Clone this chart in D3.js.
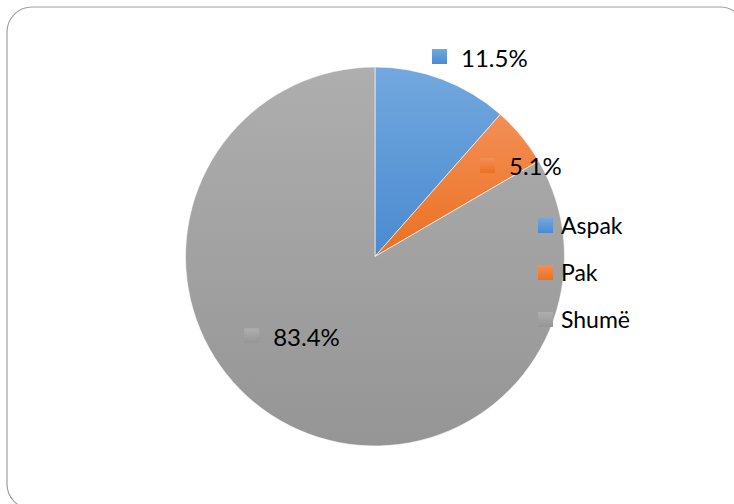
<!DOCTYPE html>
<html>
<head>
<meta charset="utf-8">
<script src="https://cdn.jsdelivr.net/npm/d3@7"></script>
<style>
  html, body { margin: 0; padding: 0; background: #fff; }
  svg { display: block; }
  text { font-family: Lato, "Open Sans", sans-serif; fill: #000; }
</style>
</head>
<body>
<svg id="chart" width="734" height="504"></svg>
<script>
const categories = ["Aspak", "Pak", "Shumë"];
const values = [11.5, 5.1, 83.4];
const valueLabels = ["11.5%", "5.1%", "83.4%"];
const colorsTop = ["#72a8de", "#f28f56", "#aeaeae"];
const colorsBottom = ["#4a8ad0", "#ec7020", "#959595"];

const W = 734, H = 504;
const cx = 375, cy = 256.5, R = 189.5;

// label layout (radius of anchor and box shift from anchor)
const labelRadius = [200, 120, 100];
const labelShift = [[-13.7, -20.4], [12.3, -22.3], [-81, -14.9]];

const svg = d3.select("#chart");
const defs = svg.append("defs");

categories.forEach((c, i) => {
  const g = defs.append("linearGradient").attr("id", "grad" + i)
    .attr("x1", 0).attr("y1", 0).attr("x2", 0).attr("y2", 1);
  g.append("stop").attr("offset", "0%").attr("stop-color", colorsTop[i]);
  g.append("stop").attr("offset", "100%").attr("stop-color", colorsBottom[i]);
});

// chart area border
svg.append("rect")
  .attr("x", 7).attr("y", 7).attr("width", 738).attr("height", 502)
  .attr("rx", 25).attr("ry", 25)
  .attr("fill", "#fff").attr("stroke", "#a0a0a0").attr("stroke-width", 1.2);

const data = categories.map((c, i) => ({ cat: c, value: values[i], label: valueLabels[i], i }));

const pie = d3.pie().sort(null).value(d => d.value);
const arc = d3.arc().innerRadius(0).outerRadius(R);
const arcs = pie(data);

const g = svg.append("g").attr("transform", `translate(${cx},${cy})`);
g.selectAll("path.slice").data(arcs).enter().append("path")
  .attr("class", "slice")
  .attr("d", arc)
  .attr("fill", d => `url(#grad${d.data.i})`)
  .attr("stroke", "#ffffff").attr("stroke-width", 0.6);

// data labels
const lbl = svg.append("g").attr("transform", `translate(${cx},${cy})`);
arcs.forEach((a, k) => {
  const la = d3.arc().innerRadius(labelRadius[k]).outerRadius(labelRadius[k]);
  const [x, y] = la.centroid(a);
  const grp = lbl.append("g")
    .attr("transform", `translate(${x + labelShift[k][0]},${y + labelShift[k][1]})`);
  grp.append("rect").attr("x", 0).attr("y", 0).attr("width", 15).attr("height", 15)
    .attr("fill", `url(#grad${a.data.i})`);
  grp.append("text").attr("x", 29).attr("y", 17.5)
    .attr("font-size", 24).text(a.data.label);
});

// legend
const legend = svg.append("g").attr("transform", "translate(538,218)");
const ly = d3.scalePoint().domain(categories).range([0, 94]);
categories.forEach((c, i) => {
  const row = legend.append("g").attr("transform", `translate(0,${ly(c)})`);
  row.append("rect").attr("width", 15).attr("height", 15).attr("fill", `url(#grad${i})`);
  row.append("text").attr("x", 23).attr("y", 15.5).attr("font-size", 23).text(c);
});
</script>
</body>
</html>
